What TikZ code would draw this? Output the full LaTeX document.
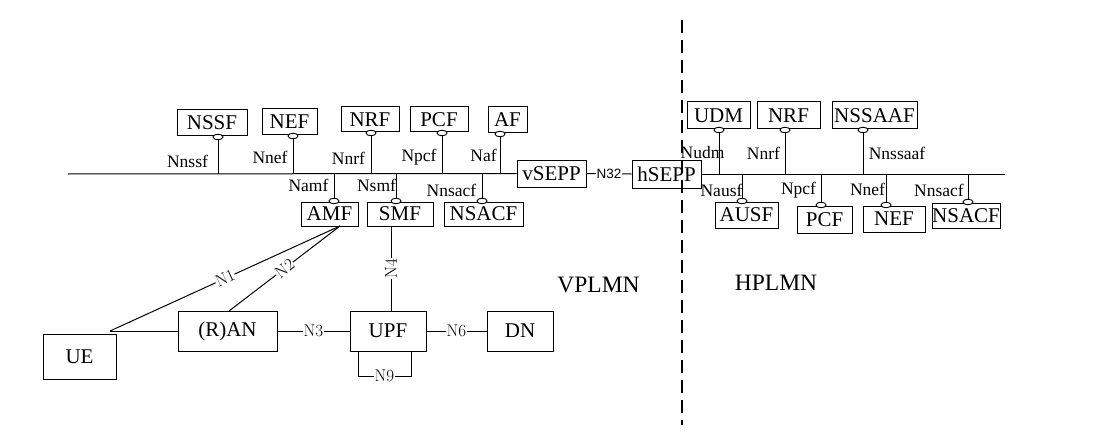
\documentclass[tikz,border=0pt]{standalone}
\usepackage{fontspec}
\newfontfamily\tnr{Liberation Serif}
\newfontfamily\hel{Liberation Sans}
\usetikzlibrary{calc,shapes.geometric}
\begin{document}
\begin{tikzpicture}[x=1pt,y=-1pt,line width=1pt,
  box/.style={draw,line width=1pt,inner sep=0pt,font=\tnr\fontsize{21}{24}\selectfont},
  lab/.style={inner sep=0pt,font=\tnr\fontsize{17.5}{19}\selectfont},
  nlab/.style={fill=white,inner sep=1pt,font=\fontsize{17}{19}\selectfont},
  port/.style={ellipse,draw,fill=white,line width=0.9pt,minimum width=10pt,minimum height=5.5pt,inner sep=0pt},
  big/.style={inner sep=0pt,font=\tnr\fontsize{23.5}{26}\selectfont}]
\useasboundingbox (0,0) rectangle (1113,433);

% bus end points
\coordinate (busL) at (68,174);
\coordinate (busR) at (1005,174);

% upper-left boxes
\node[box,minimum width=70pt,minimum height=26pt] (nssf) at (212,123) {NSSF};
\node[box,minimum width=55pt,minimum height=26pt] (nef) at (289.5,122) {NEF};
\node[box,minimum width=58pt,minimum height=25pt] (nrf) at (370,119.5) {NRF};
\node[box,minimum width=58pt,minimum height=25pt] (pcf) at (439,119.5) {PCF};
\node[box,minimum width=39pt,minimum height=26pt] (af) at (507.5,120) {AF};
% lower-left boxes
\node[box,minimum width=57pt,minimum height=24pt] (amf) at (329.5,214) {AMF};
\node[box,minimum width=66pt,minimum height=24pt] (smf) at (400,214) {SMF};
\node[box,minimum width=79pt,minimum height=24pt] (nsacf) at (483.5,214) {NSACF};
% SEPPs
\node[box,minimum width=69pt,minimum height=27pt] (vsepp) at (551.5,173.5) {vSEPP};
\node[box,minimum width=69pt,minimum height=28pt] (hsepp) at (666.5,174) {hSEPP};
% upper-right boxes
\node[box,minimum width=63pt,minimum height=27pt] (udm) at (718.5,115.5) {UDM};
\node[box,minimum width=63pt,minimum height=27pt] (nrfh) at (788.5,115.5) {NRF};
\node[box,minimum width=85pt,minimum height=27pt] (nssaaf) at (874.5,115.5) {NSSAAF};
% lower-right boxes
\node[box,minimum width=63pt,minimum height=26pt] (ausf) at (746.5,215) {AUSF};
\node[box,minimum width=55pt,minimum height=27pt] (pcfh) at (824.5,219.5) {PCF};
\node[box,minimum width=62pt,minimum height=26pt] (nefh) at (894,219) {NEF};
\node[box,minimum width=68pt,minimum height=25pt] (nsacfh) at (966,215.5) {NSACF};
% bottom boxes
\node[box,minimum width=73pt,minimum height=45pt] (ue) at (79.5,356.5) {UE};
\node[box,minimum width=99pt,minimum height=40pt] (ran) at (227.5,331) {(R)AN};
\node[box,minimum width=76pt,minimum height=40pt] (upf) at (388,331) {UPF};
\node[box,minimum width=66pt,minimum height=40pt] (dn) at (520,331) {DN};

% bus
\draw (busL) -- (vsepp.west);
\draw (hsepp.east) -- (busR);
\draw (vsepp.east) -- node[midway,fill=white,inner sep=1pt,font=\hel\fontsize{13.5}{15}\selectfont]{N32} (hsepp.west);

% ports
\node[port] (pnssf) at (218,137) {};
\node[port] (pnef) at (293,136) {};
\node[port] (pnrf) at (371,133) {};
\node[port] (ppcf) at (442,133) {};
\node[port] (paf) at (500,134) {};
\node[port] (pamf) at (334,201) {};
\node[port] (psmf) at (396,201) {};
\node[port] (pnsacf) at (482,201) {};
\node[port] (pudm) at (719,130) {};
\node[port] (pnrfh) at (785,130) {};
\node[port] (pnssaaf) at (863,130) {};
\node[port] (pausf) at (742,201) {};
\node[port] (ppcfh) at (821,205) {};
\node[port] (pnefh) at (886,205) {};
\node[port] (pnsacfh) at (968,202) {};

\foreach \p in {pnssf,pnef,pnrf,ppcf,paf,pamf,psmf,pnsacf,pudm,pnrfh,pnssaaf,pausf,ppcfh,pnefh,pnsacfh}
  \draw (\p) -- (\p |- busL);

% interface labels
\node[lab] (lnssf) at (187.5,161) {Nnssf};
\node[lab] (lnef) at (270,157) {Nnef};
\node[lab] (lnrf) at (348.5,158) {Nnrf};
\node[lab] (lnpcf) at (419,157) {Npcf};
\node[lab] (lnaf) at (483.5,155) {Naf};
\node[lab] (lnamf) at (308.5,185) {Namf};
\node[lab] (lnsmf) at (376.5,185) {Nsmf};
\node[lab] (lnnsacf) at (451.5,190) {Nnsacf};
\node[lab] (lnudm) at (702.5,153) {Nudm};
\node[lab] (lnnrfh) at (763.5,153) {Nnrf};
\node[lab] (lnnssaaf) at (897,153) {Nnssaaf};
\node[lab] (lnausf) at (721.5,190) {Nausf};
\node[lab] (lnpcfh) at (798.5,190) {Npcf};
\node[lab] (lnnefh) at (867.5,189) {Nnef};
\node[lab] (lnnsacfh) at (939,190) {Nnsacf};

% lower connections
\coordinate (uec) at (110,331);
\coordinate (amfb) at (340,226);
\coordinate (rant) at (229,311);
\draw (uec) -- (ran.west);
\draw (uec) -- node[midway,sloped,nlab,inner sep=0.5pt]{N1} (amfb);
\draw (rant) -- node[midway,sloped,nlab,inner sep=0.5pt]{N2} (amfb);
\draw (ran.east) -- node[midway,nlab]{N3} (upf.west);
\draw (upf.east) -- node[midway,nlab]{N6} (dn.west);
\coordinate (u4) at (391,311);
\coordinate (s4) at (391,226);
\draw (u4) -- node[midway,rotate=90,nlab]{N4} (s4);
\coordinate (n9a) at (358,351);
\coordinate (n9b) at (411,351);
\draw (n9a) -- ++(0,25) -| node[pos=0.25,nlab]{N9} (n9b);

% domain separator
\coordinate (dt) at (682,20);
\coordinate (db) at (682,425);
\draw[line width=1.2pt,dash pattern=on 13pt off 7pt] (dt) -- (db);
\node[big] (vplmn) at (598.5,285) {VPLMN};
\node[big] (hplmn) at (776,283) {HPLMN};
\end{tikzpicture}
\end{document}
